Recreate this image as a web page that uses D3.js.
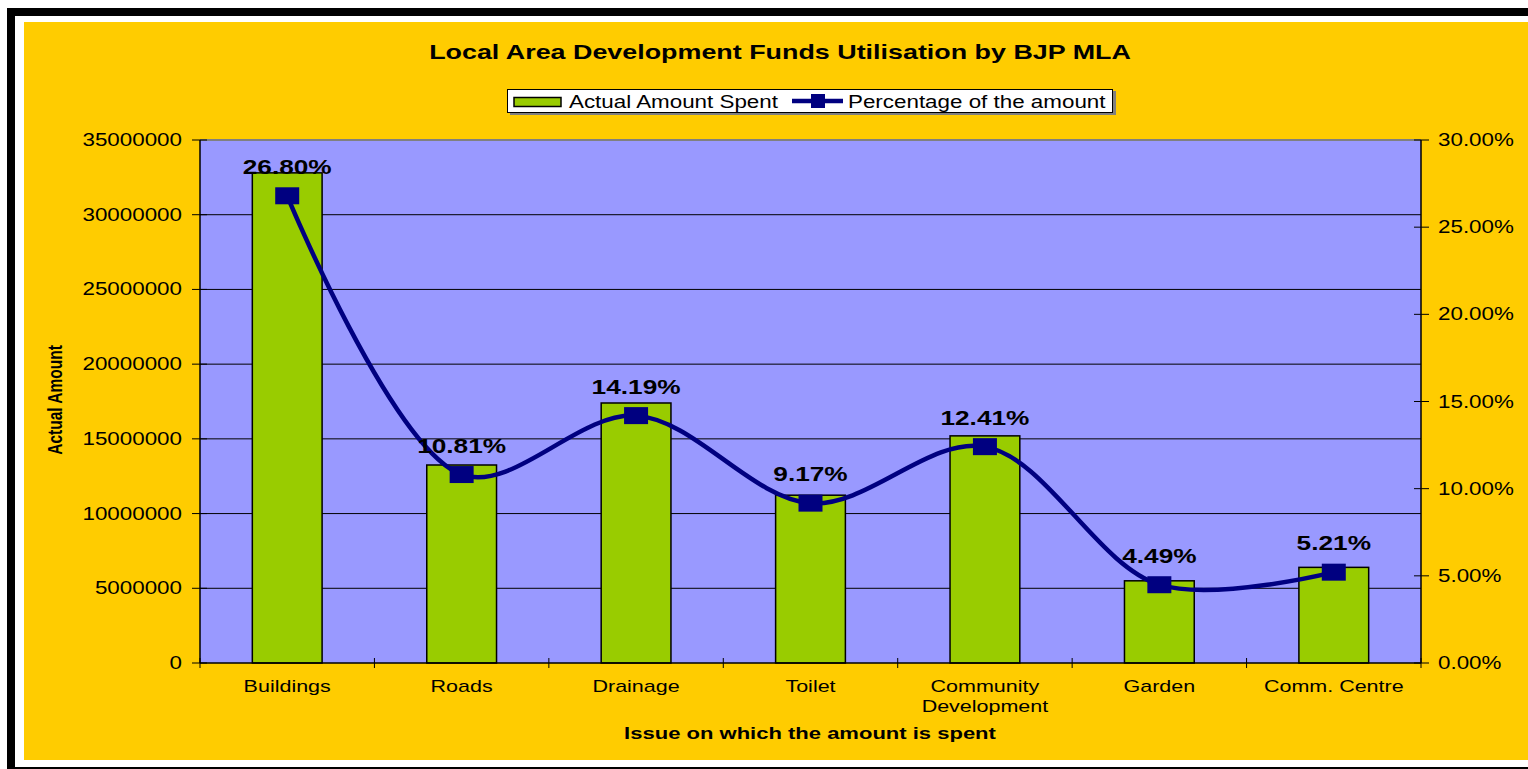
<!DOCTYPE html>
<html>
<head>
<meta charset="utf-8">
<script src="https://cdn.jsdelivr.net/npm/d3@7"></script>
<style>
    body { margin: 0; background: #ffffff; }
    svg { display: block; }
    text { font-family: "Liberation Sans", Arial, sans-serif; fill: #000; }
</style>
</head>
<body>
<svg id="chart"></svg>
<script>
// chart data
var categories = ["Buildings", "Roads", "Drainage", "Toilet", "Community Development", "Garden", "Comm. Centre"];
var amountSpent = [32800000, 13250000, 17400000, 11230000, 15200000, 5500000, 6400000];
var percentages = [26.80, 10.81, 14.19, 9.17, 12.41, 4.49, 5.21];
var amountTicks = [0, 5000000, 10000000, 15000000, 20000000, 25000000, 30000000, 35000000];
var percentTicks = [0, 5, 10, 15, 20, 25, 30];

var width = 1528;
var height = 769;
var SX = 1.28; // horizontal stretch of the original text

var plot = { left: 200, top: 140, right: 1421, bottom: 663 };

var svg = d3.select("#chart")
    .attr("width", width)
    .attr("height", height);

// outer frame
svg.append("rect")
    .attr("x", 11).attr("y", 12)
    .attr("width", width + 20).attr("height", 759)
    .attr("fill", "#ffffff")
    .attr("stroke", "#000").attr("stroke-width", 8);

svg.append("rect")
    .attr("x", 24).attr("y", 22)
    .attr("width", width - 24).attr("height", 738)
    .attr("fill", "#FFCC00");

// helper for horizontally stretched text
function label(x, y, txt, size, opts) {
    opts = opts || {};
    var t = svg.append("text")
        .attr("transform", "translate(" + x + "," + y + ")" + (opts.rotate ? " rotate(-90) scale(1," + SX + ")" : " scale(" + SX + ",1)"))
        .attr("text-anchor", opts.anchor || "middle")
        .attr("font-size", size)
        .attr("font-weight", opts.bold ? "bold" : "normal")
        .text(txt);
    if (opts.fill) t.style("fill", opts.fill);
    return t;
}

// scales
var x = d3.scaleBand()
    .domain(categories)
    .range([plot.left, plot.right])
    .paddingInner(0)
    .paddingOuter(0);

var yLeft = d3.scaleLinear()
    .domain([0, 35000000])
    .range([plot.bottom, plot.top]);

var yRight = d3.scaleLinear()
    .domain([0, 30])
    .range([plot.bottom, plot.top]);

// plot area
svg.append("rect")
    .attr("x", plot.left).attr("y", plot.top)
    .attr("width", plot.right - plot.left)
    .attr("height", plot.bottom - plot.top)
    .attr("fill", "#9999FF");

// gridlines
svg.append("g")
    .selectAll("line")
    .data(amountTicks.slice(1, -1))
    .enter()
    .append("line")
    .attr("x1", plot.left).attr("x2", plot.right)
    .attr("y1", function(d) { return yLeft(d); })
    .attr("y2", function(d) { return yLeft(d); })
    .attr("stroke", "#000").attr("stroke-width", 1);

svg.append("line")
    .attr("x1", plot.left).attr("x2", plot.right)
    .attr("y1", plot.top).attr("y2", plot.top)
    .attr("stroke", "#808080").attr("stroke-width", 2);

// bars
var barW = x.bandwidth() * 0.4;
svg.append("g")
    .selectAll("rect")
    .data(amountSpent)
    .enter()
    .append("rect")
    .attr("x", function(d, i) { return x(categories[i]) + x.bandwidth() / 2 - barW / 2; })
    .attr("y", function(d) { return yLeft(d); })
    .attr("width", barW)
    .attr("height", function(d) { return plot.bottom - yLeft(d); })
    .attr("fill", "#99CC00")
    .attr("stroke", "#000").attr("stroke-width", 1.5);

// axes lines
svg.append("line")
    .attr("x1", plot.left).attr("x2", plot.left)
    .attr("y1", plot.top).attr("y2", plot.bottom)
    .attr("stroke", "#000").attr("stroke-width", 1.5);
svg.append("line")
    .attr("x1", plot.right).attr("x2", plot.right)
    .attr("y1", plot.top).attr("y2", plot.bottom)
    .attr("stroke", "#000").attr("stroke-width", 1.5);
svg.append("line")
    .attr("x1", plot.left).attr("x2", plot.right)
    .attr("y1", plot.bottom).attr("y2", plot.bottom)
    .attr("stroke", "#000").attr("stroke-width", 1.5);

// left ticks + labels
amountTicks.forEach(function(d) {
    var yy = yLeft(d);
    svg.append("line")
        .attr("x1", plot.left - 8).attr("x2", plot.left + 7)
        .attr("y1", yy).attr("y2", yy)
        .attr("stroke", "#000").attr("stroke-width", 1);
    label(plot.left - 18, yy + 6, d3.format("d")(d), 17.5, { anchor: "end" });
});

// right ticks + labels
percentTicks.forEach(function(d) {
    var yy = yRight(d);
    svg.append("line")
        .attr("x1", plot.right - 7).attr("x2", plot.right + 8)
        .attr("y1", yy).attr("y2", yy)
        .attr("stroke", "#000").attr("stroke-width", 1);
    label(plot.right + 17, yy + 6, d.toFixed(2) + "%", 17.5, { anchor: "start" });
});

// category ticks
d3.range(categories.length + 1).forEach(function(i) {
    var xx = plot.left + i * x.bandwidth();
    svg.append("line")
        .attr("x1", xx).attr("x2", xx)
        .attr("y1", plot.bottom - 5).attr("y2", plot.bottom + 5)
        .attr("stroke", "#000").attr("stroke-width", 1);
});

// category labels
categories.forEach(function(c) {
    var cx = x(c) + x.bandwidth() / 2;
    var words = c === "Community Development" ? ["Community", "Development"] : [c];
    words.forEach(function(w, j) {
        label(cx, 692 + j * 20, w, 16.8);
    });
});

// percentage line
var line = d3.line()
    .x(function(d, i) { return x(categories[i]) + x.bandwidth() / 2; })
    .y(function(d) { return yRight(d); })
    .curve(d3.curveCatmullRom.alpha(0.5));

svg.append("path")
    .datum(percentages)
    .attr("d", line)
    .attr("fill", "none")
    .attr("stroke", "#000080")
    .attr("stroke-width", 4.5);

svg.append("g")
    .selectAll("rect")
    .data(percentages)
    .enter()
    .append("rect")
    .attr("x", function(d, i) { return x(categories[i]) + x.bandwidth() / 2 - 12; })
    .attr("y", function(d) { return yRight(d) - 8.5; })
    .attr("width", 24).attr("height", 17)
    .attr("fill", "#000080");

// data labels
percentages.forEach(function(d, i) {
    label(x(categories[i]) + x.bandwidth() / 2, yRight(d) - 22, d.toFixed(2) + "%", 20.5, { bold: true });
});

// title
label(780, 59, "Local Area Development Funds Utilisation by BJP MLA", 21, { bold: true });

// legend
svg.append("rect")
    .attr("x", 510).attr("y", 91)
    .attr("width", 606).attr("height", 24)
    .attr("fill", "#808080");
svg.append("rect")
    .attr("x", 507.5).attr("y", 89.5)
    .attr("width", 605).attr("height", 23)
    .attr("fill", "#fff")
    .attr("stroke", "#000").attr("stroke-width", 1);
svg.append("rect")
    .attr("x", 514).attr("y", 97.5)
    .attr("width", 47).attr("height", 9)
    .attr("fill", "#99CC00")
    .attr("stroke", "#000").attr("stroke-width", 1.5);
label(569, 108, "Actual Amount Spent", 17.5, { anchor: "start" });
svg.append("line")
    .attr("x1", 792).attr("x2", 843)
    .attr("y1", 101).attr("y2", 101)
    .attr("stroke", "#000080").attr("stroke-width", 4.5);
svg.append("rect")
    .attr("x", 811).attr("y", 94)
    .attr("width", 14).attr("height", 14)
    .attr("fill", "#000080");
label(848, 108, "Percentage of the amount", 17.5, { anchor: "start" });

// axis titles
label(62, 400, "Actual Amount", 15.5, { bold: true, rotate: true });
label(810, 739, "Issue on which the amount is spent", 17.2, { bold: true });
</script>
</body>
</html>
